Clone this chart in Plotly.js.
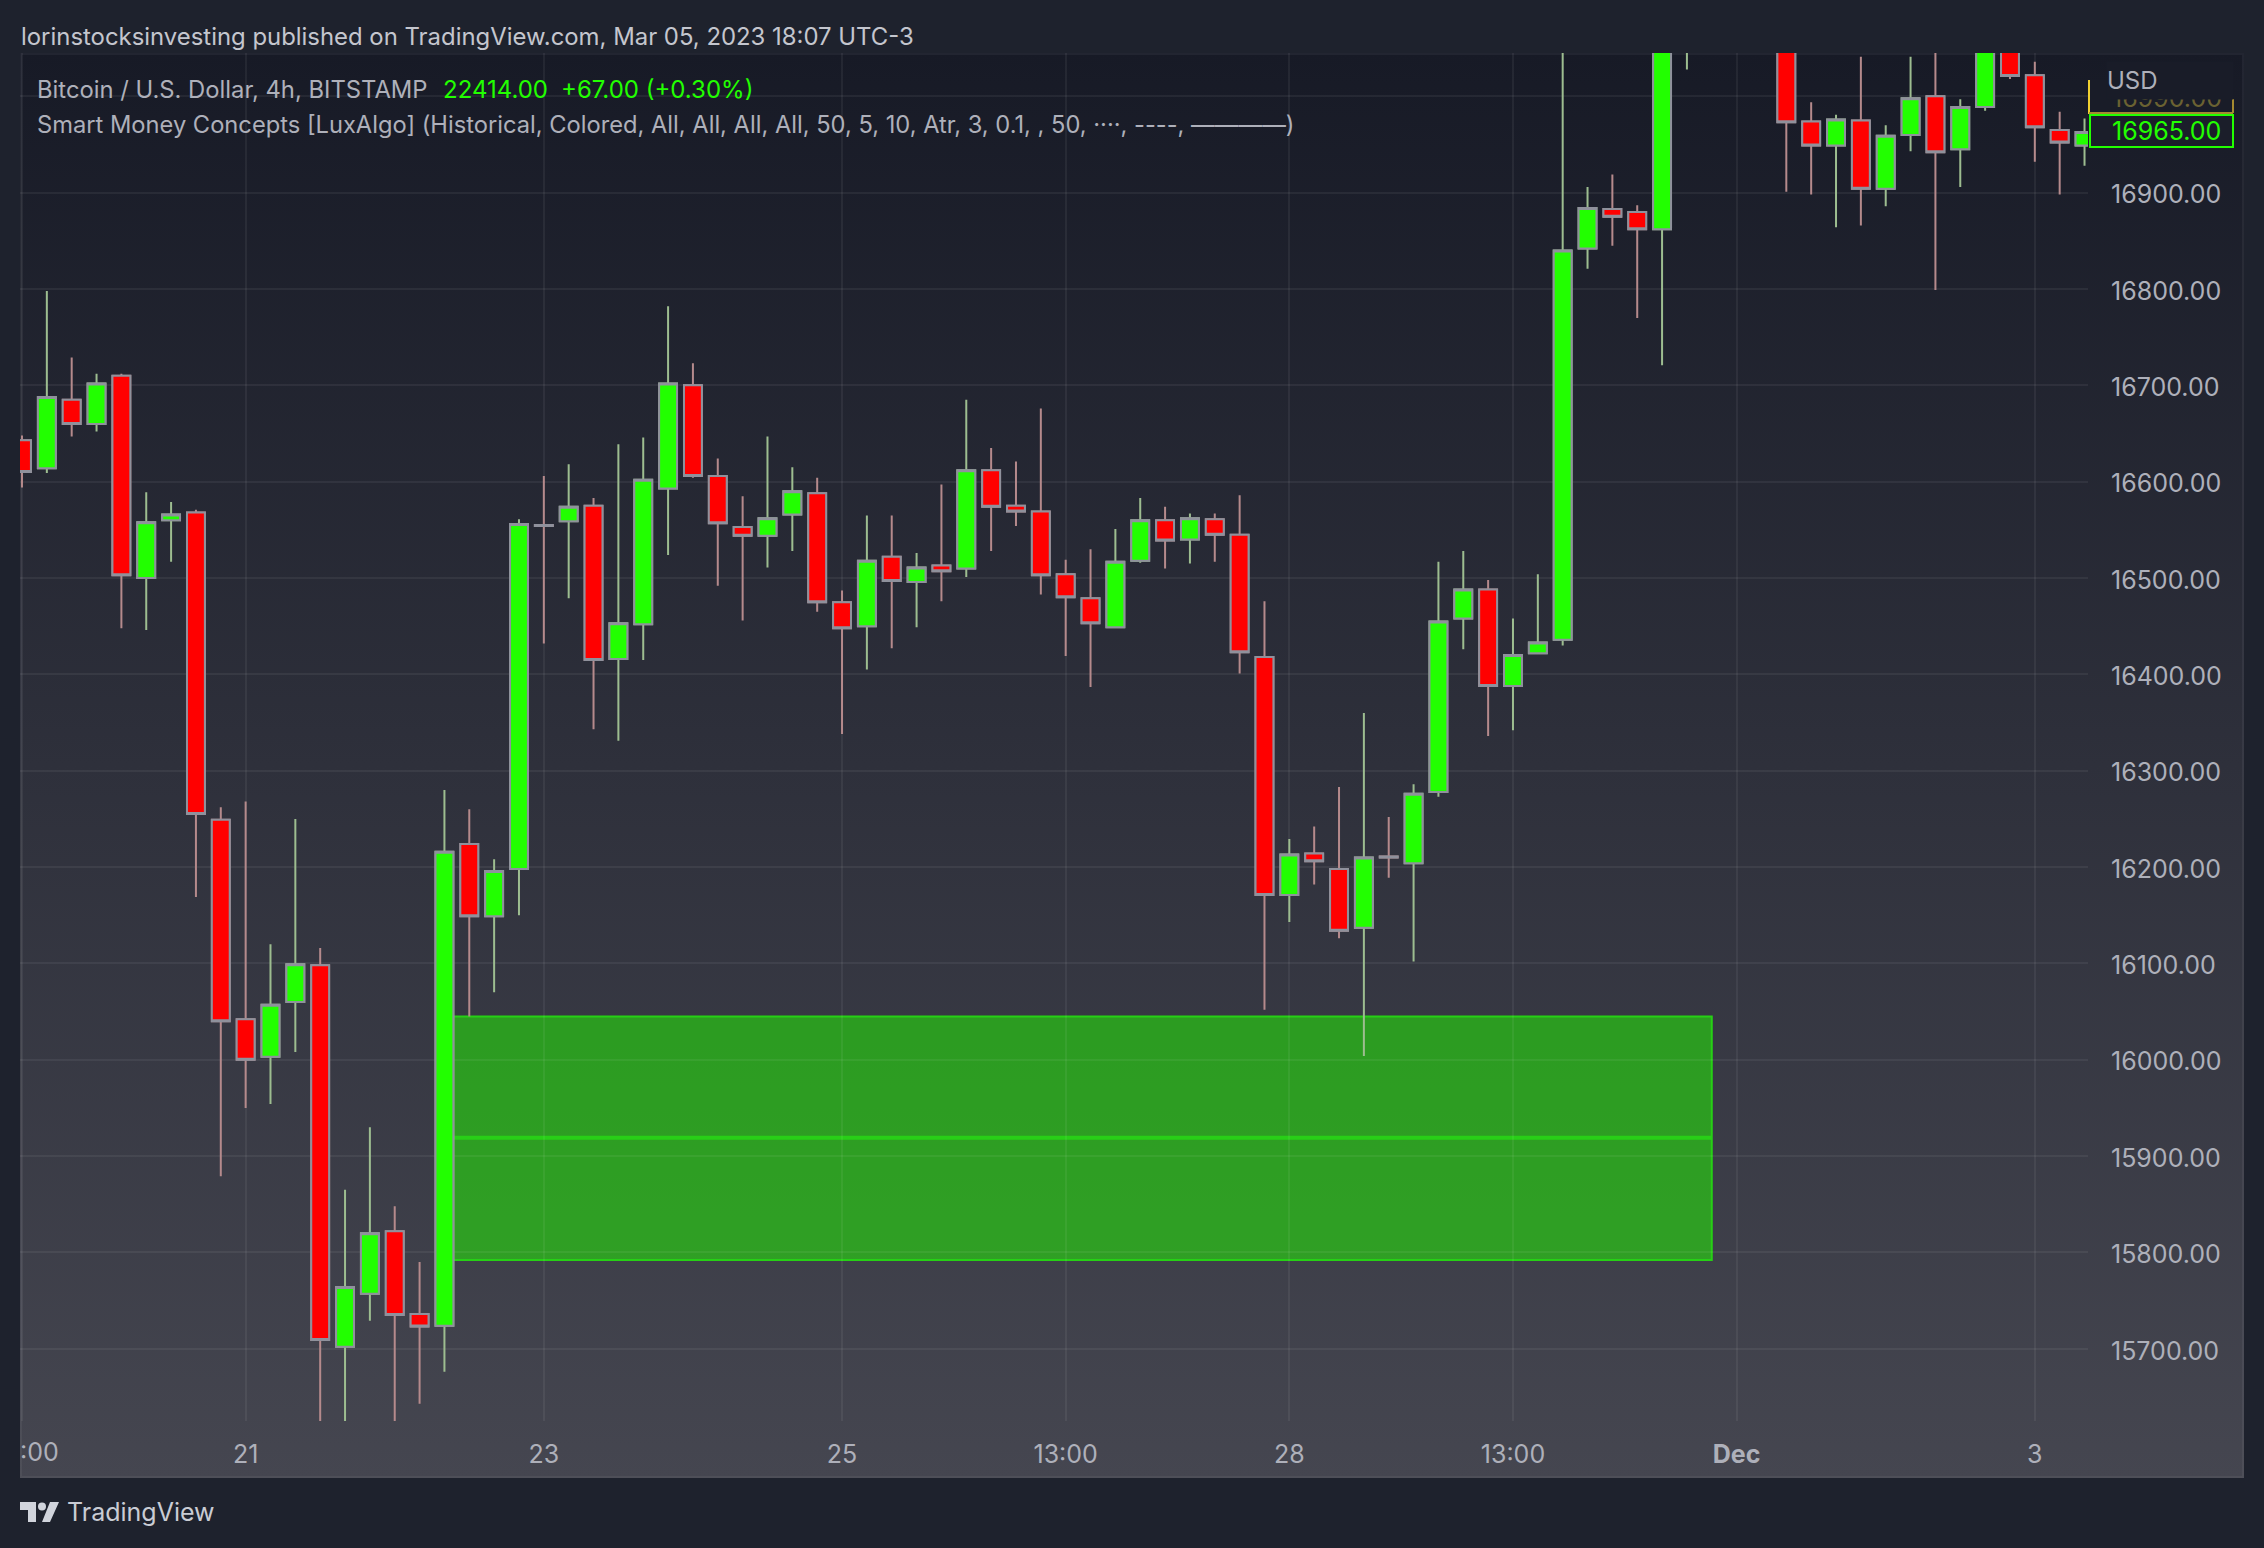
<!DOCTYPE html>
<html>
<head>
<meta charset="utf-8">
<script src="https://cdn.plot.ly/plotly-3.0.1.min.js"></script>
<style>
  html, body { margin: 0; padding: 0; background: #1e222d; }
  #panel { position: absolute; left: 20px; top: 53px; width: 2224px; height: 1425px;
           box-sizing: border-box; border: 2px solid rgba(255,255,255,0.05);
           background: linear-gradient(#171a26, #454650); background-origin: border-box; }
  #chart { position: absolute; left: 0; top: 0; width: 2264px; height: 1548px; }
  #logo  { position: absolute; left: 20px; top: 1502px; }
</style>
</head>
<body>
<div id="panel"></div>
<div id="chart"></div>
<svg id="logo" width="40" height="20" viewBox="0 0 40 20">
  <path fill="#d1d4dc" d="M0 0H16V20H8V8H0Z M30 0H39L30 20H22Z"/>
  <circle fill="#d1d4dc" cx="22" cy="4.5" r="4"/>
</svg>
<script>
// Candele 4h; 68-70 fuori scala, non leggibili.
const opens = [16643,16614,16685,16660,16710,16500,16560,16568,16249,16042,16003,16060,16098,15702,15757,15822,15736,15724,16224,16149,16198,16555,16559,16575,16416,16452,16593,16700,16606,16553,16544,16566,16588,16475,16450,16522,16496,16513,16510,16612,16575,16569,16504,16479,16449,16518,16560,16540,16561,16545,16418,16171,16214,16198,16137,16211,16204,16278,16458,16488,16388,16422,16436,16842,16883,16880,16862,17120,null,null,null,17100,16974,16949,16975,16904,16960,17000,16945,16989,17060,17022,16965,16949];
const highs = [16648,16798,16729,16712,16712,16589,16579,16571,16262,16268,16120,16250,16116,15865,15930,15848,15790,16280,16260,16208,16561,16606,16618,16583,16639,16646,16782,16723,16624,16585,16647,16615,16604,16487,16565,16565,16526,16597,16685,16635,16621,16676,16519,16530,16551,16583,16574,16567,16567,16586,16476,16229,16242,16283,16360,16252,16286,16517,16528,16498,16458,16504,17100,16906,16919,16887,17090,17200,null,null,null,17120,16994,16981,17041,16970,17041,17060,16997,17070,17065,17036,16984,16977];
const lows = [16594,16609,16647,16652,16448,16446,16517,16169,15879,15950,15954,16008,15610,15610,15729,15610,15643,15676,16045,16070,16150,16432,16479,16343,16331,16415,16524,16604,16492,16456,16511,16528,16465,16338,16405,16427,16449,16476,16501,16528,16554,16483,16419,16387,16448,16516,16510,16515,16517,16401,16052,16143,16182,16126,16004,16189,16102,16273,16426,16336,16342,16421,16430,16821,16845,16770,16721,17028,null,null,null,16901,16898,16864,16866,16886,16943,16799,16906,16985,17018,16932,16898,16928];
const closes = [16610,16688,16660,16702,16503,16558,16566,16255,16040,16000,16057,16099,15709,15764,15820,15735,15723,16216,16149,16196,16556,16554,16574,16415,16453,16602,16702,16606,16557,16544,16562,16590,16475,16448,16518,16497,16511,16507,16612,16574,16569,16503,16480,16453,16517,16560,16539,16562,16545,16423,16171,16213,16206,16134,16210,16210,16276,16455,16488,16388,16420,16433,16840,16884,16875,16862,17080,17180,null,null,null,16973,16949,16976,16904,16959,16998,16942,16989,17060,17021,16968,16952,16963];

// La prima etichetta e' tagliata dal bordo: resta solo ":00" (annotazione sotto).
const tickIdx = [0, 9, 21, 33, 42, 51, 60, 69, 81];
const tickLabels = ['', '21', '23', '25', '13:00', '28', '13:00', '<b>Dec</b>', '3'];
const priceTicks = [15700,15800,15900,16000,16100,16200,16300,16400,16500,16600,16700,16800,16900,17000];
const priceLabels = ['15700.00','15800.00','15900.00','16000.00','16100.00','16200.00','16300.00','16400.00','16500.00','16600.00','16700.00','16800.00','16900.00',''];

// Zona domanda (indici candela e prezzi)
const zoneStart = 17, zoneEnd = 68;
const zoneTop = 16045, zoneMid = 15919, zoneBottom = 15792;

const UP = '#22ff00', DOWN = '#ff0000', TXT = '#aeb0ba', FONT = 'Inter, sans-serif';

// Area del grafico in pixel
const L = 20, R = 2088, T = 53, B = 1421;
const xp = x => (x - L) / (R - L);
const yp = y => (B - y) / (B - T);

const idx = opens.map((_, i) => i);

const wicks = {
    type: 'candlestick', x: idx, open: opens, high: highs, low: lows, close: closes,
    increasing: { line: { color: '#9dbd90', width: 2 }, fillcolor: 'rgba(0,0,0,0)' },
    decreasing: { line: { color: '#b58a8c', width: 2 }, fillcolor: 'rgba(0,0,0,0)' },
    whiskerwidth: 0, showlegend: false, hoverinfo: 'skip',
};
const bodies = {
    type: 'candlestick', x: idx, open: opens, close: closes,
    high: opens.map((o, i) => o === null ? null : Math.max(o, closes[i])),
    low: opens.map((o, i) => o === null ? null : Math.min(o, closes[i])),
    increasing: { line: { color: '#8f919c', width: 2 }, fillcolor: UP },
    decreasing: { line: { color: '#8f919c', width: 2 }, fillcolor: DOWN },
    whiskerwidth: 0, showlegend: false, hoverinfo: 'skip',
};

function label(text, x, y, size, color, extra) {
    return Object.assign({
        text: text, xref: 'paper', yref: 'paper', x: xp(x), y: yp(y),
        xanchor: 'left', yanchor: 'middle', showarrow: false,
        font: { family: FONT, size: size, color: color },
    }, extra || {});
}

const annotations = [
    label('lorinstocksinvesting published on TradingView.com, Mar 05, 2023 18:07 UTC-3', 19, 36, 23.9, '#c4c6ce'),
    label('Bitcoin / U.S. Dollar, 4h, BITSTAMP', 35, 90, 23.8, TXT),
    label('22414.00', 441, 90, 24, UP),
    label('+67.00 (+0.30%)', 559, 90, 24, UP),
    label('Smart Money Concepts [LuxAlgo] (Historical, Colored, All, All, All, All, 50, 5, 10, Atr, 3, 0.1, , 50, ····, ----, ————)', 35, 124, 23.7, TXT),
    label('16990.00', 2110, 97.5, 25, '#6b6232'),
    label('USD', 2106, 80.5, 24, TXT, { width: 126, height: 37, align: 'left', bgcolor: '#191c28', borderpad: 0 }),
    label('16965.00', 2110, 131, 25, UP),
    label(':00', 18, 1452, 25, TXT),
    label('TradingView', 65, 1512, 25, '#c9ccd4'),
];

const paperRect = (x0, y0, x1, y1, line, fill) => ({
    type: 'rect', xref: 'paper', yref: 'paper', layer: 'above',
    x0: xp(x0), x1: xp(x1), y0: yp(y0), y1: yp(y1),
    line: line, fillcolor: fill,
});

const shapes = [
    { type: 'rect', xref: 'x', yref: 'y', layer: 'below', x0: zoneStart, x1: zoneEnd, y0: zoneBottom, y1: zoneTop,
      fillcolor: 'rgba(34,255,0,0.5)', line: { color: '#26d015', width: 2 } },
    { type: 'line', xref: 'x', yref: 'y', layer: 'below', x0: zoneStart, x1: zoneEnd, y0: zoneMid, y1: zoneMid,
      line: { color: '#28cf17', width: 4 } },
    // etichette prezzo a destra
    paperRect(2089, 80, 2233, 113, { width: 0 }, '#191c28'),
    { type: 'line', xref: 'paper', yref: 'paper', layer: 'above', x0: xp(2089), x1: xp(2089), y0: yp(80), y1: yp(114), line: { color: '#f0d030', width: 2 } },
    { type: 'line', xref: 'paper', yref: 'paper', layer: 'above', x0: xp(2089), x1: xp(2233), y0: yp(113), y1: yp(113), line: { color: '#a58a30', width: 2 } },
    { type: 'line', xref: 'paper', yref: 'paper', layer: 'above', x0: xp(2233), x1: xp(2233), y0: yp(99), y1: yp(113), line: { color: '#a58a30', width: 2 } },
    paperRect(2090, 115, 2233, 147, { color: UP, width: 2 }, '#1b1e2a'),
];

const layout = {
    width: 2264, height: 1548,
    margin: { l: L, r: 2264 - R, t: T, b: 1548 - B, pad: 0, autoexpand: false },
    paper_bgcolor: 'rgba(0,0,0,0)', plot_bgcolor: 'rgba(0,0,0,0)',
    showlegend: false, boxgap: 0.1, boxgroupgap: 0.2,
    xaxis: {
        range: [-0.08, 83.14], rangeslider: { visible: false }, fixedrange: true,
        tickmode: 'array', tickvals: tickIdx, ticktext: tickLabels,
        ticks: 'outside', ticklen: 11, tickcolor: 'rgba(0,0,0,0)',
        tickfont: { family: FONT, size: 25, color: TXT },
        showgrid: true, gridcolor: 'rgba(255,255,255,0.06)', gridwidth: 2, zeroline: false, showline: false,
    },
    yaxis: {
        side: 'right', range: [15625, 17045], fixedrange: true,
        tickmode: 'array', tickvals: priceTicks, ticktext: priceLabels, ticklabeloverflow: 'allow',
        ticks: 'outside', ticklen: 17, tickcolor: 'rgba(0,0,0,0)', ticklabelshift: 2,
        tickfont: { family: FONT, size: 25, color: TXT },
        showgrid: true, gridcolor: 'rgba(255,255,255,0.06)', gridwidth: 2, zeroline: false, showline: false,
    },
    shapes: shapes,
    annotations: annotations,
};

Plotly.newPlot('chart', [wicks, bodies], layout, { displayModeBar: false, staticPlot: true });
</script>
</body>
</html>
